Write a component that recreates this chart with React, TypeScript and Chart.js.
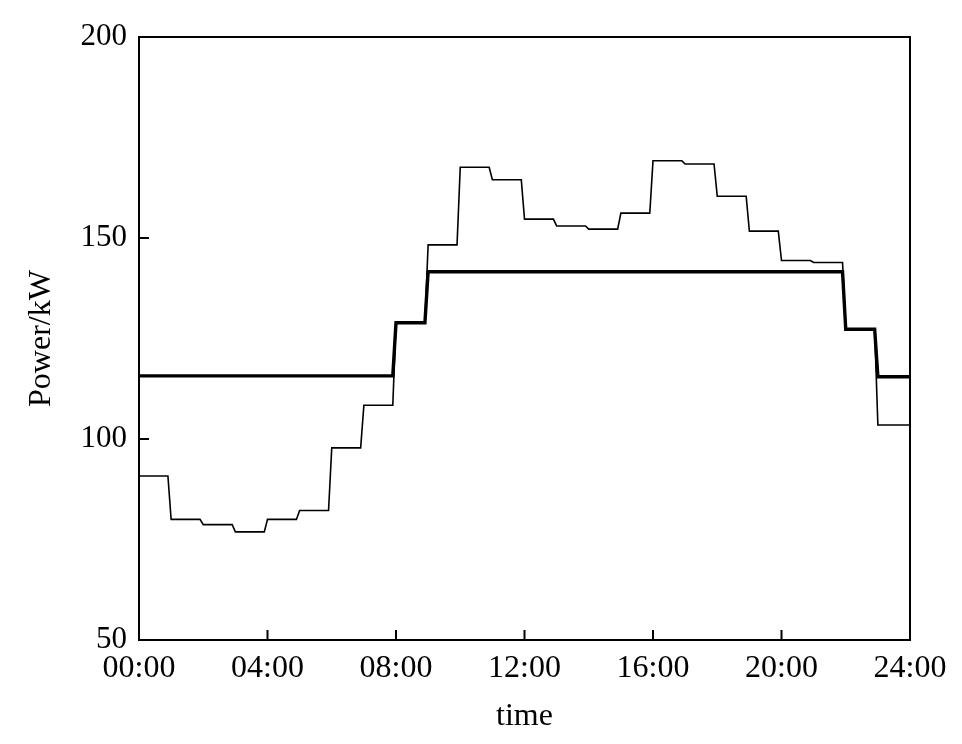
import React, { useEffect, useRef } from "react";
import { Chart, registerables } from "chart.js";

Chart.register(...registerables);

// Start hour of each one-hour segment
const hours = [0, 1, 2, 3, 4, 5, 6, 7, 8, 9, 10, 11, 12, 13, 14, 15, 16, 17, 18, 19, 20, 21, 22, 23];
// Thin line: load power (kW)
const loadPower = [
  90.8, 80.0, 78.7, 76.9, 80.0, 82.2, 97.8, 108.4, 128.9, 148.3, 167.6, 164.5,
  154.7, 153.0, 152.2, 156.2, 169.2, 168.4, 160.4, 151.7, 144.4, 143.9, 127.3, 103.5,
];
// Thick line: smoothed / purchased power (kW)
const gridPower = [
  115.7, 115.7, 115.7, 115.7, 115.7, 115.7, 115.7, 115.7, 128.9, 141.6, 141.6, 141.6,
  141.6, 141.6, 141.6, 141.6, 141.6, 141.6, 141.6, 141.6, 141.6, 141.6, 127.3, 115.5,
];
const xTicks = [0, 4, 8, 12, 16, 20, 24];
const yTicks = [50, 100, 150, 200];
const X_END = 24;
const RAMP = 0.1;

function toSteps(values: number[]) {
  const pts: { x: number; y: number }[] = [];
  values.forEach((v, i) => {
    pts.push({ x: hours[i], y: v });
    const end = i === values.length - 1 ? X_END : hours[i + 1] - RAMP;
    pts.push({ x: end, y: v });
  });
  return pts;
}

const frameAndTicks = {
  id: "frameAndTicks",
  afterDraw(chart: any) {
    const { ctx, chartArea: a, scales } = chart;
    const x = scales.x;
    const y = scales.y;
    ctx.save();
    ctx.strokeStyle = "#000";
    ctx.lineWidth = 2;
    ctx.strokeRect(a.left, a.top, a.right - a.left, a.bottom - a.top);
    ctx.beginPath();
    x.ticks.forEach((t: any) => {
      const px = x.getPixelForValue(t.value);
      ctx.moveTo(px, a.bottom);
      ctx.lineTo(px, a.bottom - 10);
    });
    y.ticks.forEach((t: any) => {
      const py = y.getPixelForValue(t.value);
      ctx.moveTo(a.left, py);
      ctx.lineTo(a.left + 10, py);
    });
    ctx.stroke();
    ctx.restore();
  },
};

export default function App() {
  const ref = useRef<HTMLCanvasElement | null>(null);

  useEffect(() => {
    document.body.style.margin = "0";
    const canvas = ref.current;
    if (!canvas) return;
    const font = "'Liberation Serif', 'Times New Roman', serif";
    const chart = new Chart(canvas, {
      type: "line",
      data: {
        datasets: [
          {
            label: "grid",
            data: toSteps(gridPower),
            borderColor: "#000",
            borderWidth: 3.4,
            pointRadius: 0,
            tension: 0,
            fill: false,
          },
          {
            label: "load",
            data: toSteps(loadPower),
            borderColor: "#000",
            borderWidth: 1.6,
            pointRadius: 0,
            tension: 0,
            fill: false,
          },
        ],
      },
      options: {
        animation: false,
        responsive: false,
        events: [],
        layout: { padding: { top: 37, right: 52, bottom: 0, left: 0 } },
        plugins: {
          legend: { display: false },
          tooltip: { enabled: false },
        },
        scales: {
          x: {
            type: "linear",
            min: 0,
            max: 24,
            afterBuildTicks: (s: any) => {
              s.ticks = xTicks.map((v) => ({ value: v }));
            },
            afterFit: (s: any) => {
              s.height = 104;
            },
            grid: { display: false, drawTicks: false },
            border: { display: false },
            ticks: {
              color: "#000",
              font: { family: font, size: 32 },
              padding: 9,
              maxRotation: 0,
              autoSkip: false,
              callback: (v: any) => String(v).padStart(2, "0") + ":00",
            },
            title: {
              display: true,
              text: "time",
              color: "#000",
              font: { family: font, size: 32 },
              padding: { top: 0, bottom: 8 },
            },
          },
          y: {
            type: "linear",
            min: 50,
            max: 200,
            afterBuildTicks: (s: any) => {
              s.ticks = yTicks.map((v) => ({ value: v }));
            },
            afterFit: (s: any) => {
              s.width = 139;
            },
            grid: { display: false, drawTicks: false },
            border: { display: false },
            ticks: {
              color: "#000",
              font: { family: font, size: 31 },
              padding: 12,
            },
            title: {
              display: true,
              text: "Power/kW",
              color: "#000",
              font: { family: font, size: 32 },
              padding: { top: 22, bottom: 0 },
            },
          },
        },
      },
      plugins: [frameAndTicks],
    });
    return () => chart.destroy();
  }, []);

  return (
    <div style={{ width: 962, height: 744, background: "#fff" }}>
      <canvas ref={ref} width={962} height={744} style={{ display: "block" }} />
    </div>
  );
}
